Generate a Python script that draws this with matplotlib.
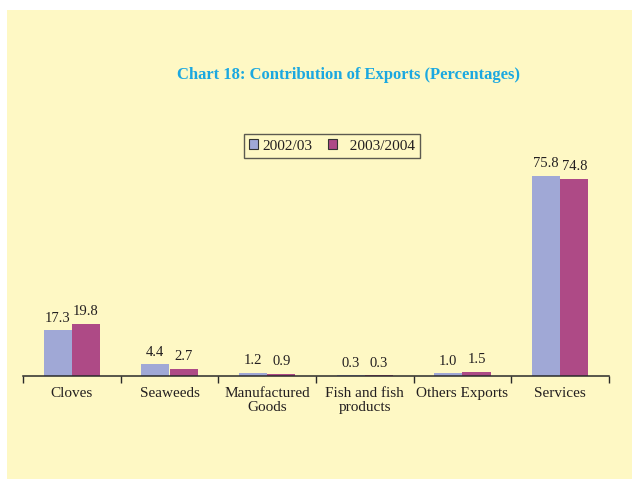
import matplotlib
matplotlib.use("Agg")
import matplotlib.pyplot as plt
import matplotlib.patches as patches
import numpy as np

categories = ["Cloves", "Seaweeds", "Manufactured\nGoods", "Fish and fish\nproducts",
              "Others Exports", "Services"]
series_names = ["2002/03", "2003/2004"]
values_0203 = [17.3, 4.4, 1.2, 0.3, 1.0, 75.8]
values_0304 = [19.8, 2.7, 0.9, 0.3, 1.5, 74.8]

bg = "#FEF8C4"
blue = "#A0A8D6"
magenta = "#AE4A86"
txt = "#231F20"

plt.rcParams["font.family"] = ["Liberation Serif", "DejaVu Serif"]

fig = plt.figure(figsize=(6.32, 4.79), dpi=100, facecolor="white")
# yellow panel behind everything
fig.patches.append(patches.Rectangle((7 / 632, 0), 1, (479 - 10) / 479,
                                     transform=fig.transFigure, facecolor=bg,
                                     edgecolor="none", zorder=-10))

ax = fig.add_axes([23 / 632, 1 - 376 / 479, (609 - 23) / 632, (376 - 160) / 479])
ax.set_facecolor("none")

x = np.arange(len(categories))
w = 0.29
b1 = ax.bar(x - w / 2, values_0203, w, color=blue, label=series_names[0])
b2 = ax.bar(x + w / 2, values_0304, w, color=magenta, label=series_names[1])

for bars, vals in ((b1, values_0203), (b2, values_0304)):
    for rect, v in zip(bars, vals):
        ax.annotate(f"{v:.1f}", (rect.get_x() + rect.get_width() / 2, rect.get_height()),
                    xytext=(0, 4), textcoords="offset points", ha="center", va="bottom",
                    fontsize=10.5, color=txt)

ax.set_xlim(-0.5, len(categories) - 0.5)
ax.set_ylim(0, (376 - 160) / 2.64)
for s in ("top", "right", "left"):
    ax.spines[s].set_visible(False)
ax.spines["bottom"].set_color("#2a2a2a")
ax.spines["bottom"].set_linewidth(1.1)
ax.set_yticks([])
ax.set_xticks(x)
ax.set_xticklabels(categories, fontsize=11, color=txt, linespacing=1.1)
ax.tick_params(axis="x", which="major", length=0, pad=8)
ax.set_xticks(np.arange(len(categories) + 1) - 0.5, minor=True)
ax.tick_params(axis="x", which="minor", length=5, width=1, color="#2a2a2a", direction="out")

fig.text(349 / 632, 1 - 75 / 479, "Chart 18: Contribution of Exports (Percentages)",
         ha="center", va="center", fontsize=12, fontweight="bold", color="#1BA8E0")

leg = fig.legend(loc="center", bbox_to_anchor=(332 / 632, 1 - 146 / 479), ncol=2,
                 fontsize=11, frameon=True, fancybox=False, handlelength=0.6,
                 handleheight=0.6, handletextpad=0.3, columnspacing=1.0,
                 borderpad=0.35)
leg.get_frame().set_edgecolor("#333333")
leg.get_frame().set_facecolor(bg)
leg.get_frame().set_linewidth(1.0)
for h in leg.legend_handles:
    h.set_edgecolor("#333333")
    h.set_linewidth(0.8)
# wider gap before the second label, as in the original
leg.get_texts()[1].set_text("  " + series_names[1])
for t in leg.get_texts():
    t.set_color(txt)

fig.savefig("out.png", dpi=100, facecolor="white")
